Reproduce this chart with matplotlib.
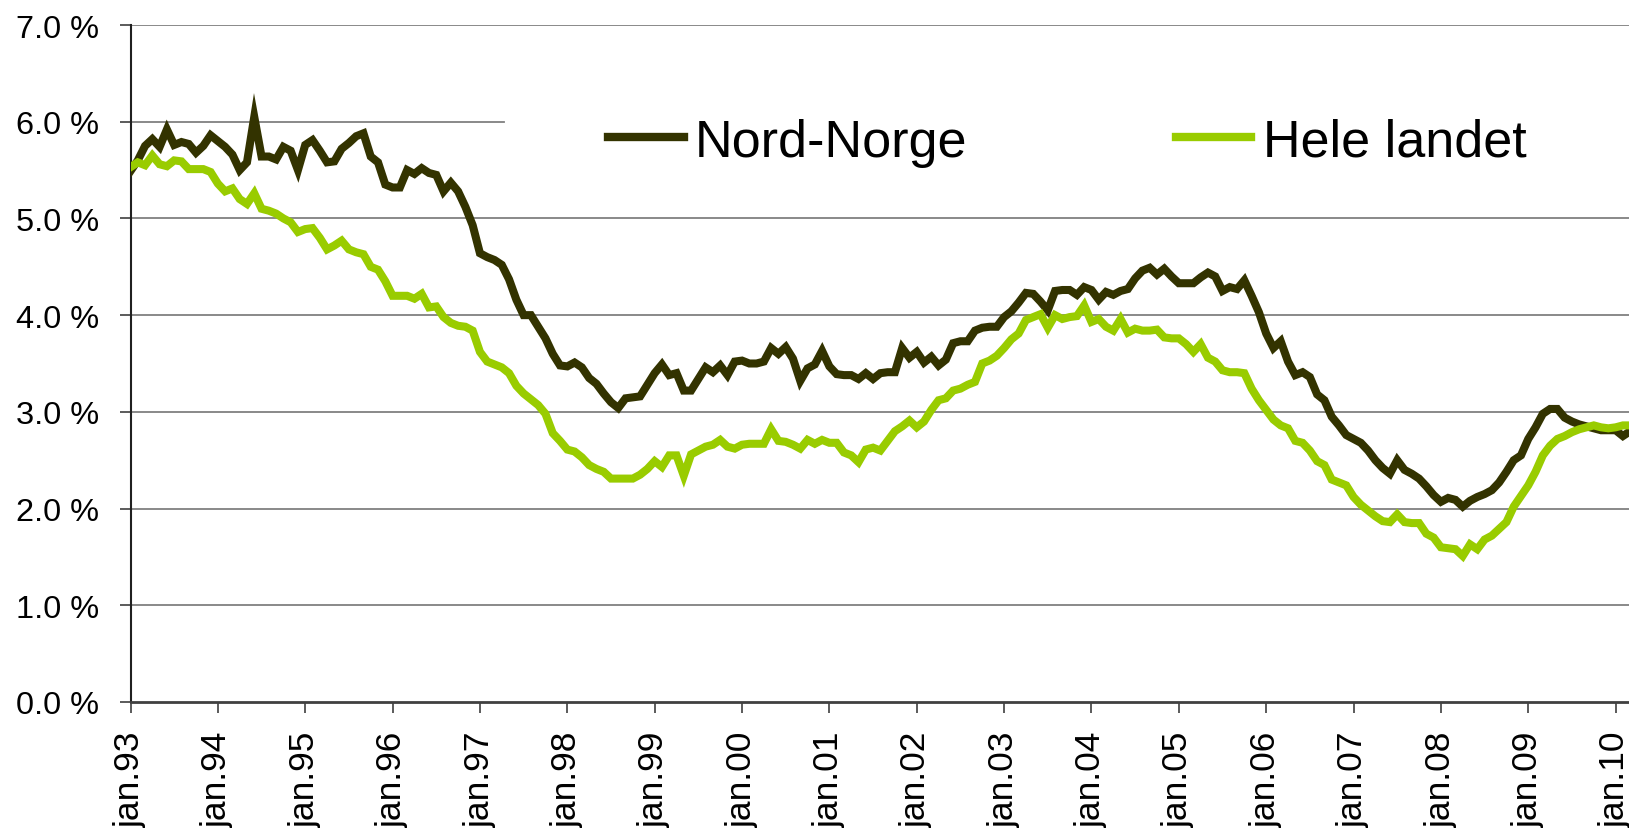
import matplotlib
matplotlib.use("Agg")
import matplotlib.pyplot as plt
import numpy as np

# monthly series, jan.93 .. mar.10 (percent)
nord_norge = [
    5.49, 5.60, 5.75, 5.82, 5.74, 5.92, 5.76, 5.79, 5.77, 5.68, 5.75, 5.86,
    5.80, 5.74, 5.66, 5.50, 5.58, 6.05, 5.64, 5.64, 5.61, 5.74, 5.70, 5.50,
    5.76, 5.81, 5.70, 5.58, 5.59, 5.72, 5.78, 5.85, 5.88, 5.64, 5.58, 5.35,
    5.32, 5.32, 5.50, 5.46, 5.52, 5.47, 5.45, 5.28, 5.37, 5.28, 5.12, 4.93,
    4.64, 4.60, 4.57, 4.52, 4.37, 4.16, 4.00, 4.00, 3.88, 3.76, 3.60, 3.48,
    3.47, 3.51, 3.46, 3.35, 3.29, 3.19, 3.10, 3.04, 3.14, 3.15, 3.16, 3.28,
    3.40, 3.49, 3.38, 3.40, 3.22, 3.22, 3.34, 3.46, 3.41, 3.48, 3.38, 3.52,
    3.53, 3.50, 3.50, 3.52, 3.66, 3.60, 3.67, 3.55, 3.32, 3.45, 3.49, 3.63,
    3.47, 3.39, 3.38, 3.38, 3.34, 3.40, 3.34, 3.40, 3.41, 3.41, 3.66, 3.56,
    3.62, 3.51, 3.57, 3.48, 3.54, 3.71, 3.73, 3.73, 3.84, 3.87, 3.88, 3.88,
    3.98, 4.04, 4.13, 4.23, 4.22, 4.14, 4.05, 4.25, 4.26, 4.26, 4.21, 4.29,
    4.26, 4.16, 4.24, 4.21, 4.25, 4.27, 4.38, 4.46, 4.49, 4.42, 4.48, 4.40,
    4.33, 4.33, 4.33, 4.39, 4.44, 4.40, 4.25, 4.29, 4.27, 4.36, 4.20, 4.03,
    3.81, 3.66, 3.73, 3.52, 3.38, 3.41, 3.36, 3.18, 3.12, 2.95, 2.86, 2.76,
    2.72, 2.68, 2.60, 2.50, 2.42, 2.36, 2.50, 2.40, 2.36, 2.31, 2.23, 2.14,
    2.07, 2.11, 2.09, 2.02, 2.08, 2.12, 2.15, 2.19, 2.27, 2.38, 2.50, 2.55,
    2.72, 2.84, 2.98, 3.03, 3.03, 2.94, 2.90, 2.87, 2.85, 2.83, 2.81, 2.81,
    2.81, 2.75, 2.80,
]

hele_landet = [
    5.53, 5.58, 5.55, 5.65, 5.56, 5.54, 5.60, 5.59, 5.51, 5.51, 5.51, 5.48,
    5.36, 5.28, 5.31, 5.20, 5.15, 5.26, 5.10, 5.08, 5.05, 5.00, 4.96, 4.86,
    4.89, 4.90, 4.80, 4.68, 4.72, 4.77, 4.68, 4.65, 4.63, 4.50, 4.47, 4.35,
    4.20, 4.20, 4.20, 4.17, 4.22, 4.08, 4.09, 3.98, 3.92, 3.89, 3.88, 3.84,
    3.62, 3.52, 3.49, 3.46, 3.40, 3.27, 3.19, 3.13, 3.07, 2.98, 2.78, 2.70,
    2.61, 2.59, 2.53, 2.45, 2.41, 2.38, 2.31, 2.31, 2.31, 2.31, 2.35, 2.41,
    2.49, 2.43, 2.55, 2.55, 2.34, 2.56, 2.60, 2.64, 2.66, 2.71, 2.64, 2.62,
    2.66, 2.67, 2.67, 2.67, 2.82, 2.70, 2.69, 2.66, 2.62, 2.71, 2.67, 2.71,
    2.68, 2.68, 2.58, 2.55, 2.48, 2.61, 2.63, 2.60, 2.70, 2.80, 2.85, 2.91,
    2.84, 2.90, 3.02, 3.12, 3.14, 3.22, 3.24, 3.28, 3.31, 3.50, 3.53, 3.58,
    3.66, 3.75, 3.81, 3.95, 3.98, 4.01, 3.87, 4.00, 3.96, 3.98, 3.99, 4.10,
    3.93, 3.96, 3.88, 3.84, 3.96, 3.82, 3.86, 3.84, 3.84, 3.85, 3.77, 3.76,
    3.76, 3.70, 3.62, 3.70, 3.56, 3.52, 3.43, 3.41, 3.41, 3.40, 3.24, 3.12,
    3.02, 2.92, 2.86, 2.83, 2.70, 2.68, 2.60, 2.49, 2.45, 2.30, 2.27, 2.24,
    2.12, 2.04, 1.98, 1.92, 1.87, 1.86, 1.94, 1.86, 1.85, 1.85, 1.74, 1.70,
    1.60, 1.59, 1.58, 1.51, 1.63, 1.58, 1.68, 1.72, 1.79, 1.86, 2.02, 2.13,
    2.24, 2.38, 2.55, 2.65, 2.72, 2.75, 2.79, 2.82, 2.84, 2.86, 2.84, 2.83,
    2.84, 2.86, 2.86,
]

series_names = ["Nord-Norge", "Hele landet"]
series_colors = ["#333300", "#99CC00"]
year_labels = ["jan.%02d" % (y % 100) for y in range(1993, 2011)]
y_ticks = [0, 1, 2, 3, 4, 5, 6, 7]

plt.rcParams["font.family"] = ["Liberation Sans", "DejaVu Sans"]

W, H = 1629, 829
fig = plt.figure(figsize=(W / 100, H / 100), dpi=100)
left_px, top_px, bottom_px = 130.5, 26, 703
ax = fig.add_axes([left_px / W, (H - bottom_px) / H, 1 - left_px / W, (bottom_px - top_px) / H])

months = np.arange(len(nord_norge))
for vals, name, col in zip([nord_norge, hele_landet], series_names, series_colors):
    ax.plot(months, vals, color=col, lw=5.8, label=name, solid_joinstyle="miter", zorder=3)

ax.set_xlim(0, (W - left_px) / 7.28)
ax.set_ylim(0, 7)

# horizontal gridlines; the 6 % one is hidden behind the legend on the right
legend_left = (504 - left_px) / (W - left_px)
for yv in y_ticks[1:]:
    ax.axhline(yv, xmax=legend_left if yv == 6 else 1, color="#808080", lw=1.3, zorder=1)

ax.set_yticks(y_ticks)
ax.set_yticklabels(["%.1f %%" % v for v in y_ticks])
ax.set_xticks(np.arange(0, 12 * len(year_labels), 12))
ax.set_xticklabels(year_labels, rotation=90, va="top", ha="center")

ax.tick_params(axis="y", labelsize=23.4, length=8, width=1.2, pad=14.5, color="#404040")
ax.tick_params(axis="x", labelsize=25.5, length=7.7, width=1.2, pad=13, color="#404040")

for s in ["top", "right"]:
    ax.spines[s].set_visible(False)
ax.spines["left"].set_color("#202020")
ax.spines["left"].set_linewidth(1.5)
ax.spines["bottom"].set_color("#404040")
ax.spines["bottom"].set_linewidth(2)

leg = ax.legend(loc="center left", bbox_to_anchor=((608 - left_px) / (W - left_px), (bottom_px - 143) / (bottom_px - top_px)),
                ncol=2, frameon=False, fontsize=37.5, handlelength=1.45, handletextpad=0.22,
                columnspacing=4.0, borderpad=0, borderaxespad=0)
for line in leg.get_lines():
    line.set_linewidth(6)

fig.savefig("out.png", dpi=100)
